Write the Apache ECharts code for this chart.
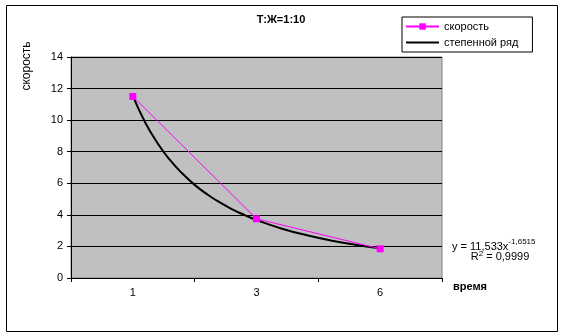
<!DOCTYPE html>
<html>
<head>
<meta charset="utf-8">
<script src="https://cdn.jsdelivr.net/npm/echarts@6/dist/echarts.min.js"></script>
<style>
  body { margin: 0; background: #fff; }
  #chartmain { width: 565px; height: 336px; }
</style>
</head>
<body>
<div id="chartmain"></div>
<script>
// категории (время) и значения скорости
let categories = ['1', '3', '6'];
let speed = [11.5, 3.75, 1.85];
// точки степенной линии тренда (x — позиция категории 1..3)
let trendX = [1.0, 1.1, 1.2, 1.3, 1.4, 1.5, 1.6, 1.7, 1.8, 1.9, 2.0, 2.2, 2.4, 2.6, 2.8, 3.0];
let trendY = [11.53, 9.85, 8.54, 7.48, 6.62, 5.9, 5.31, 4.8, 4.37, 4.0, 3.67, 3.14, 2.72, 2.38, 2.11, 1.88];
let yTicks = [0, 14, 2];

let chartmain = echarts.init(document.getElementById('chartmain'));
let font = 'Liberation Sans, Arial, sans-serif';
let trend = [];
for (let i = 0; i < trendX.length; i++) {
  trend.push([trendX[i], trendY[i]]);
}

chartmain.setOption({
  animation: false,
  backgroundColor: '#fff',
  textStyle: { fontFamily: font },
  grid: {
    left: 71, top: 57, width: 371, height: 221,
    show: true,
    backgroundColor: '#c0c0c0',
    borderColor: '#808080',
    borderWidth: 1
  },
  legend: {
    orient: 'vertical',
    left: 402, top: 17,
    borderColor: '#000', borderWidth: 1,
    padding: [4, 14, 4, 3],
    itemGap: 5,
    itemWidth: 33, itemHeight: 8,
    textStyle: { fontSize: 11, color: '#000', fontFamily: font },
    data: [
      'скорость',
      { name: 'степенной ряд', itemStyle: { opacity: 0 } }
    ]
  },
  xAxis: [
    {
      type: 'category',
      data: categories,
      boundaryGap: true,
      axisLine: { lineStyle: { color: '#000', width: 1 } },
      axisTick: { show: true, length: 4, lineStyle: { color: '#000' } },
      axisLabel: { color: '#000', fontSize: 11, margin: 9, fontFamily: font },
      splitLine: { show: false }
    },
    {
      type: 'value',
      min: 0.5, max: 3.5,
      show: false
    }
  ],
  yAxis: {
    type: 'value',
    min: yTicks[0], max: yTicks[1], interval: yTicks[2],
    axisLine: { show: true, lineStyle: { color: '#000', width: 1 } },
    axisTick: { show: true, length: 4, lineStyle: { color: '#000' } },
    axisLabel: { color: '#000', fontSize: 11, margin: 8, fontFamily: font },
    splitLine: { lineStyle: { color: '#000', width: 1 } }
  },
  series: [
    {
      name: 'степенной ряд',
      type: 'line',
      xAxisIndex: 1,
      data: trend,
      smooth: true,
      showSymbol: false,
      symbol: 'none',
      color: '#000',
      lineStyle: { color: '#000', width: 2 },
      z: 3
    },
    {
      name: 'скорость',
      type: 'line',
      data: speed,
      symbol: 'rect',
      symbolSize: 7,
      color: '#ff00ff',
      lineStyle: { color: '#ff00ff', width: 1 },
      itemStyle: { color: '#ff00ff' },
      z: 4
    }
  ],
  graphic: [
    {
      type: 'rect',
      shape: { x: 6.5, y: 5.5, width: 551, height: 326 },
      style: { fill: 'none', stroke: '#000', lineWidth: 1 },
      silent: true
    },
    {
      type: 'text',
      x: 281, y: 20,
      style: {
        text: 'Т:Ж=1:10',
        font: 'bold 11px ' + font,
        fill: '#000',
        align: 'center',
        verticalAlign: 'middle'
      }
    },
    {
      type: 'text',
      x: 27, y: 66,
      rotation: Math.PI / 2,
      style: {
        text: 'скорость',
        font: '12px ' + font,
        fill: '#000',
        align: 'center',
        verticalAlign: 'middle'
      }
    },
    {
      type: 'text',
      x: 453, y: 287,
      style: {
        text: 'время',
        font: 'bold 11px ' + font,
        fill: '#000',
        align: 'left',
        verticalAlign: 'middle'
      }
    },
    {
      type: 'text',
      x: 452, y: 238,
      style: {
        text: '{a|y = 11,533x}{b|-1,6515}',
        fill: '#000',
        rich: {
          a: { font: '11px ' + font, fill: '#000', verticalAlign: 'bottom' },
          b: { font: '8px ' + font, fill: '#000', verticalAlign: 'top', padding: [0, 0, 6, 0] }
        }
      }
    },
    {
      type: 'text',
      x: 500, y: 257,
      style: {
        text: '{a|R}{b|2}{a| = 0,9999}',
        align: 'center',
        verticalAlign: 'middle',
        rich: {
          a: { font: '11px ' + font, fill: '#000' },
          b: { font: '8px ' + font, fill: '#000', padding: [0, 0, 6, 0] }
        }
      }
    }
  ]
});
</script>
</body>
</html>
